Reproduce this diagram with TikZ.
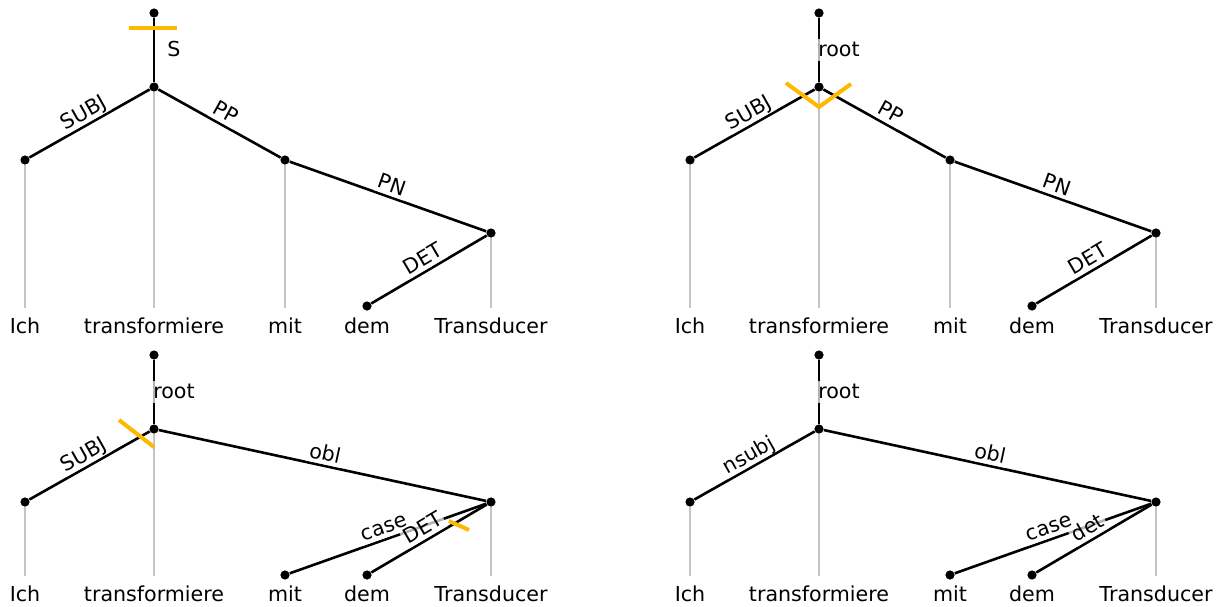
\documentclass[tikz,border=0pt]{standalone}
\usepackage{fontspec}
\setmainfont{DejaVu Sans}
\usepackage{tikz}
\usetikzlibrary{calc}
\definecolor{cutorange}{RGB}{255,184,0}
\tikzstyle{dep}=[line width=1.3pt]
\tikzstyle{proj}=[line width=1.4pt, black!23]
\tikzstyle{tok}=[circle, fill=black, inner sep=0pt, minimum size=4.6pt]
\tikzstyle{word}=[anchor=base, inner xsep=2pt, inner ysep=4.5pt, text height=8pt, text depth=0pt, font=\fontsize{10.3}{12}\selectfont]
\tikzstyle{lbl}=[fill=white, fill opacity=0.7, text opacity=1, inner sep=1pt, text height=7.7pt, text depth=1pt, font=\fontsize{10.3}{12}\selectfont]
\tikzstyle{rel}=[lbl, sloped, above]
\tikzstyle{vrel}=[lbl, xshift=10pt]
\tikzstyle{cut}=[line width=2pt, cutorange]

\begin{document}
\begin{tikzpicture}[x=0.5pt,y=-0.5pt]
\useasboundingbox (0,0) rectangle (1222,606);
% top row
\foreach \dx/\p/\rt in {0/a/S,665/b/root} {
\begin{scope}[shift={(\dx,0)}, name prefix=\p-]
\node[tok] (top) at (154,13) {};
\foreach \n/\x/\y in {ich/25/160,tra/154/87,mit/285/160,dem/367/306,tdc/491/233}
	\node[tok] (\n) at (\x,\y) {};
\foreach \n/\x/\w in {ich/25/Ich,tra/154/transformiere,mit/285/mit,dem/367/dem,tdc/491/Transducer}
	\node[word] (w\n) at (\x,333) {\w};
\foreach \n in {ich,tra,mit,tdc}
	\draw[proj] (\n) -- (w\n);
\draw[dep] (top) -- node[vrel] {\rt} (tra);
\draw[dep] (ich) -- node[rel] {SUBJ} (tra);
\draw[dep] (tra) -- node[rel] {PP} (mit);
\draw[dep] (mit) -- node[rel] {PN} (tdc);
\draw[dep] (dem) -- node[rel] {DET} (tdc);
\end{scope}
}
% bottom row
\foreach \dx/\p/\sb/\dt in {0/c/SUBJ/DET,665/d/nsubj/det} {
\begin{scope}[shift={(\dx,342)}, name prefix=\p-]
\node[tok] (top) at (154,13) {};
\foreach \n/\x/\y in {ich/25/160,tra/154/87,mit/285/233,dem/367/233,tdc/491/160}
	\node[tok] (\n) at (\x,\y) {};
\foreach \n/\x/\w in {ich/25/Ich,tra/154/transformiere,mit/285/mit,dem/367/dem,tdc/491/Transducer}
	\node[word] (w\n) at (\x,259) {\w};
\foreach \n in {ich,tra,tdc}
	\draw[proj] (\n) -- (w\n);
\draw[dep] (top) -- node[vrel] {root} (tra);
\draw[dep] (ich) -- node[rel] {\sb} (tra);
\draw[dep] (tra) -- node[rel] {obl} (tdc);
\draw[dep] (mit) -- node[rel] {case} (tdc);
\draw[dep] (dem) -- node[rel] {\dt} (tdc);
\end{scope}
}
% cuts
\draw[cut] ($(a-tra)+(-25,-59)$) -- ($(a-tra)+(23,-59)$);
\draw[cut] ($(b-tra)+(-33,-4)$) -- ($(b-tra)+(0,20)$) -- ($(b-tra)+(32,-3)$);
\draw[cut] ($(c-tra)+(-35,-9)$) -- ($(c-tra)+(0,18)$);
\draw[cut] ($(c-tdc)+(-42,19)$) -- ($(c-tdc)+(-22,28)$);
\end{tikzpicture}
\end{document}
